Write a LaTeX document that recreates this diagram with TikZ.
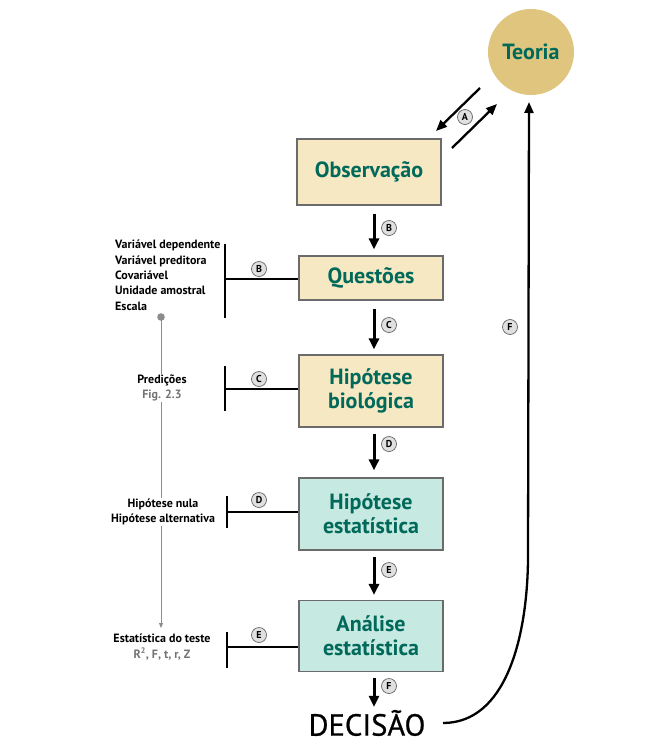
\documentclass[tikz,border=0pt]{standalone}
\usepackage{fontspec}
\setmainfont{PT Sans}
\newfontfamily\decfont[FakeBold=0.7]{PT Sans}
\usetikzlibrary{arrows.meta}
\definecolor{tealtxt}{HTML}{00695A}
\definecolor{beige}{HTML}{F6E8C3}
\definecolor{mint}{HTML}{C6E9E1}
\definecolor{gold}{HTML}{E0C57F}
\definecolor{boxline}{HTML}{6B6B6B}
\definecolor{guide}{HTML}{8C8C8C}
\begin{document}
\begin{tikzpicture}[x=1pt,y=-1pt,
  box/.style={draw=boxline,line width=1.2pt,minimum width=144pt,align=center,
    font=\fontsize{22}{24}\selectfont\bfseries,text=tealtxt},
  flow/.style={line width=3pt,-{Triangle[length=11pt,width=10pt]}},
  thin/.style={line width=2.3pt,-{Triangle[length=11pt,width=9pt]}},
  tbar/.style={line width=2.2pt},
  lbl/.style={circle,draw=black!60,line width=0.7pt,fill=black!12,inner sep=0pt,minimum size=15pt,
    font=\fontsize{10}{10}\selectfont\bfseries},
  side/.style={font=\fontsize{12}{15.3}\selectfont\bfseries,align=center,fill=white,inner sep=1pt},
]
\useasboundingbox (0,0) rectangle (661,747);

% main boxes
\node[circle,fill=gold,minimum size=86pt,text=tealtxt,font=\fontsize{22}{24}\selectfont\bfseries] (teo) at (531,52) {Teoria};
\node[box,fill=beige,minimum height=66pt] (obs) at (369,172) {Observação};
\node[box,fill=beige,minimum height=44pt] (que) at (371,278) {Questões};
\node[box,fill=beige,minimum height=72pt] (hbio) at (371,391) {Hipótese\\biológica};
\node[box,fill=mint,minimum height=72pt] (hest) at (371,514) {Hipótese\\estatística};
\node[box,fill=mint,minimum height=71pt] (ana) at (371,636) {Análise\\estatística};
\node[font=\decfont\fontsize{30.5}{31}\selectfont,inner sep=1pt] (dec) at (367,723) {DECISÃO};

% vertical flow arrows
\draw[flow,shorten <=8pt,shorten >=6pt] ([xshift=5pt]obs.south) -- ([xshift=3pt]que.north);
\draw[flow,shorten <=8pt,shorten >=5pt] ([xshift=3pt]que.south) -- ([xshift=3pt]hbio.north);
\draw[flow,shorten <=6pt,shorten >=7pt] ([xshift=3pt]hbio.south) -- ([xshift=3pt]hest.north);
\draw[flow,shorten <=6pt,shorten >=5pt] ([xshift=3pt]hest.south) -- ([xshift=3pt]ana.north);
\draw[flow,shorten <=6pt,shorten >=2pt] ([xshift=3pt]ana.south) -- ([xshift=7pt]dec.north);
\node[lbl] (lB) at (389,228) {B};
\node[lbl] (lC) at (389,325) {C};
\node[lbl] (lD) at (389,444) {D};
\node[lbl] (lE) at (389,570) {E};
\node[lbl] (lF) at (389,686) {F};

% A arrows between Observacao and Teoria
\coordinate (a1s) at (480,88);
\coordinate (a1e) at (436,131);
\coordinate (a2s) at (452,148);
\coordinate (a2e) at (497,104);
\draw[thin] (a1s) -- (a1e);
\draw[thin] (a2s) -- (a2e);
\node[lbl] (lA) at (465,117) {A};

% F curve
\coordinate (fs) at (443,723);
\draw[thin] (fs) .. controls (505,723) and (527,640) .. (528,560) -- (529,102);
\node[lbl] (lF2) at (510,327) {F};

% T-bars
\coordinate (tBt) at (225,244); \coordinate (tBb) at (225,318); \coordinate (tBm) at (225,279);
\draw[tbar] (tBt) -- (tBb);
\draw[tbar] (tBm) -- (tBm -| que.west);
\node[lbl] (lB2) at (259,269) {B};

\coordinate (tCt) at (225,366); \coordinate (tCb) at (225,411); \coordinate (tCm) at (225,389);
\draw[tbar] (tCt) -- (tCb);
\draw[tbar] (tCm) -- (tCm -| hbio.west);
\node[lbl] (lC2) at (259,379) {C};

\coordinate (tDt) at (227,496); \coordinate (tDb) at (227,528); \coordinate (tDm) at (227,512);
\draw[tbar] (tDt) -- (tDb);
\draw[tbar] (tDm) -- (tDm -| hest.west);
\node[lbl] (lD2) at (259,500) {D};

\coordinate (tEt) at (227,632); \coordinate (tEb) at (227,668); \coordinate (tEm) at (227,647);
\draw[tbar] (tEt) -- (tEb);
\draw[tbar] (tEm) -- (tEm -| ana.west);
\node[lbl] (lE2) at (259,635) {E};

% gray guide line
\coordinate (gtop) at (161,317);
\coordinate (gbot) at (161,628);
\draw[guide,line width=0.9pt,-{Triangle[length=5pt,width=4pt]}] (gtop) -- (gbot);
\fill[guide] (gtop) circle (3.8pt);

% side texts
\node[font=\fontsize{12}{15.3}\selectfont\bfseries,align=left,anchor=north west,inner sep=0pt] (vars) at (115,240)
  {Variável dependente\\Variável preditora\\Covariável\\Unidade amostral\\Escala};
\node[side] (pred) at (162,388) {Predições\\\textcolor{black!55}{Fig. 2.3}};
\node[side] (hnul) at (163,512) {Hipótese nula\\Hipótese alternativa};
\node[side] (estt) at (162,647) {Estatística do teste\\\textcolor{black!55}{R\textsuperscript{2}, F, t, r, Z}};
\end{tikzpicture}
\end{document}
